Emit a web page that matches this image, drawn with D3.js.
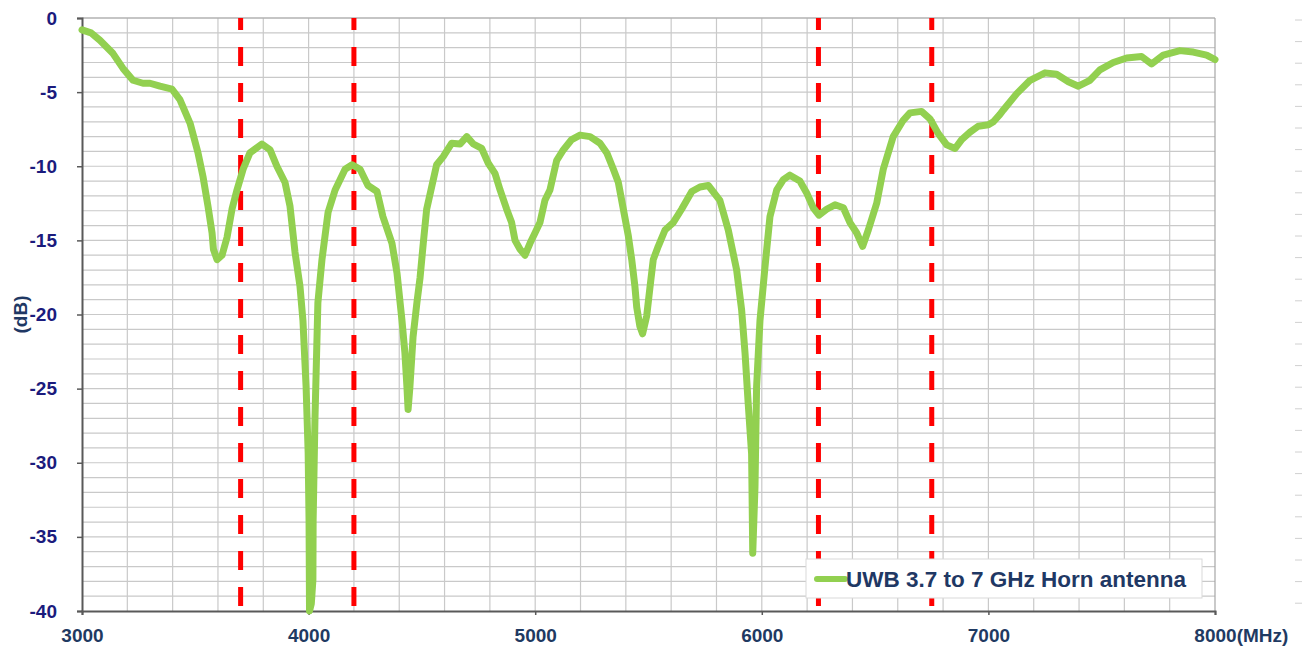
<!DOCTYPE html>
<html>
<head>
<meta charset="utf-8">
<script src="https://cdn.jsdelivr.net/npm/d3@7/dist/d3.min.js"></script>
<style>
  html, body { margin: 0; padding: 0; background: #ffffff; }
  svg { display: block; font-family: "Liberation Sans", Arial, sans-serif; }
</style>
</head>
<body>
<svg id="chart" width="1302" height="649"></svg>
<script>
// Return loss of the horn antenna, frequency in MHz and S11 in dB
const freqMHz = [
  3000, 3040, 3079, 3137, 3181, 3225, 3269, 3300, 3344, 3397, 3432, 3477, 3512, 3534, 3556, 3574, 3580, 3596,
  3618, 3640, 3662, 3684, 3711, 3741, 3794, 3830, 3860, 3896, 3918, 3940, 3962, 3975, 3989, 3998, 4002, 4004,
  4012, 4019, 4020, 4028, 4041, 4059, 4086, 4117, 4161, 4192, 4227, 4262, 4302, 4328, 4368, 4390, 4412, 4425,
  4434, 4439, 4447, 4461, 4478, 4492, 4506, 4521, 4543, 4565, 4594, 4631, 4668, 4698, 4727, 4764, 4793, 4823,
  4845, 4874, 4896, 4911, 4933, 4955, 4977, 4999, 5021, 5043, 5065, 5095, 5124, 5161, 5198, 5242, 5286, 5316,
  5345, 5367, 5389, 5411, 5426, 5440, 5448, 5462, 5474, 5492, 5507, 5521, 5543, 5573, 5609, 5646, 5691, 5727,
  5764, 5815, 5852, 5889, 5911, 5926, 5940, 5955, 5960, 5970, 5977, 5992, 6014, 6036, 6066, 6095, 6124, 6168,
  6198, 6227, 6252, 6286, 6323, 6360, 6389, 6419, 6445, 6470, 6507, 6536, 6580, 6624, 6654, 6705, 6742, 6779,
  6816, 6853, 6882, 6919, 6955, 7000, 7022, 7051, 7066, 7125, 7184, 7250, 7301, 7353, 7397, 7448, 7492, 7551,
  7610, 7676, 7720, 7772, 7845, 7904, 7963, 8000
];
const s11dB = [
  -0.8, -1.0, -1.5, -2.4, -3.4, -4.2, -4.4, -4.4, -4.6, -4.8, -5.5, -7.1, -9.1, -10.7, -12.7, -14.5, -15.6, -16.3,
  -16.0, -14.8, -12.9, -11.6, -10.2, -9.1, -8.5, -8.9, -10.0, -11.1, -12.7, -15.8, -18.1, -20.4, -24.9, -29.3, -33.9, -40.0,
  -39.5, -37.9, -33.9, -27.1, -19.2, -16.3, -13.1, -11.6, -10.2, -9.9, -10.2, -11.3, -11.7, -13.4, -15.2, -17.2, -20.4, -22.6,
  -24.9, -26.4, -24.9, -21.5, -19.2, -17.5, -15.2, -12.9, -11.4, -9.9, -9.35, -8.45, -8.5, -8.0, -8.5, -8.8, -9.8, -10.5,
  -11.6, -12.9, -13.8, -15.0, -15.6, -16.0, -15.2, -14.5, -13.8, -12.3, -11.6, -9.6, -8.9, -8.2, -7.9, -8.0, -8.45, -9.1,
  -10.2, -11.1, -12.9, -14.7, -16.3, -18.1, -19.5, -20.8, -21.3, -20.1, -18.1, -16.3, -15.4, -14.3, -13.8, -12.9, -11.7, -11.4,
  -11.3, -12.3, -14.3, -17.0, -19.7, -22.6, -26.0, -29.4, -36.1, -31.6, -24.9, -20.4, -16.8, -13.4, -11.6, -10.9, -10.6, -11.0,
  -11.8, -12.8, -13.3, -12.9, -12.6, -12.8, -13.8, -14.5, -15.4, -14.3, -12.5, -10.2, -8.0, -6.9, -6.4, -6.3, -6.8, -7.8,
  -8.56, -8.8, -8.2, -7.7, -7.3, -7.2, -7.0, -6.5, -6.2, -5.1, -4.2, -3.7, -3.8, -4.3, -4.6, -4.2, -3.5, -3.0,
  -2.7, -2.6, -3.1, -2.5, -2.2, -2.3, -2.5, -2.8
];

// Band edges marked with dashed red lines (MHz)
const bandEdges = [3700, 4200, 6250, 6750];

// Axis ticks
const xTickValues = [3000, 4000, 5000, 6000, 7000, 8000];
const yTickValues = [0, -5, -10, -15, -20, -25, -30, -35, -40];
const seriesName = "UWB 3.7 to 7 GHz Horn antenna";

const svg = d3.select("#chart");
const margin = { left: 82, top: 18, right: 87, bottom: 38 };
const W = 1302, H = 649;
const iw = W - margin.left - margin.right;
const ih = H - margin.top - margin.bottom;

const x = d3.scaleLinear().domain([3000, 8000]).range([0, iw]);
const y = d3.scaleLinear().domain([-40, 0]).range([ih, 0]);

const g = svg.append("g").attr("transform", `translate(${margin.left},${margin.top})`);
const plainNumber = d => String(d);

// Grid: every 200 MHz and every 1 dB
const gridColor = "#c9c9c9";
g.append("g").selectAll("line").data(d3.range(3200, 8000, 200)).join("line")
  .attr("x1", d => x(d)).attr("x2", d => x(d)).attr("y1", 0).attr("y2", ih)
  .attr("stroke", gridColor).attr("stroke-width", 1.2);
g.append("g").selectAll("line").data(d3.range(-39, 1, 1)).join("line")
  .attr("x1", 0).attr("x2", iw).attr("y1", d => y(d)).attr("y2", d => y(d))
  .attr("stroke", gridColor).attr("stroke-width", 1.2);

// Plot frame: light top/right, dark left/bottom axes
g.append("line").attr("x1", 0).attr("x2", iw).attr("y1", 0).attr("y2", 0)
  .attr("stroke", "#a6a6a6").attr("stroke-width", 1.2);
g.append("line").attr("x1", iw).attr("x2", iw).attr("y1", 0).attr("y2", ih)
  .attr("stroke", "#a6a6a6").attr("stroke-width", 1.2);

// Y axis
const yAxis = g.append("g")
  .call(d3.axisLeft(y).tickValues(yTickValues).tickSize(5).tickPadding(20).tickFormat(plainNumber));
yAxis.select(".domain").attr("stroke", "#595959").attr("stroke-width", 2);
yAxis.selectAll(".tick line").attr("stroke", "#595959").attr("stroke-width", 1.5);
yAxis.selectAll(".tick text")
  .attr("fill", "#1b1b7d").attr("font-size", 19).attr("font-weight", "bold")
  .attr("font-family", "'Liberation Sans', Arial, sans-serif");

// X axis
const xAxis = g.append("g").attr("transform", `translate(0,${ih})`)
  .call(d3.axisBottom(x).tickValues(xTickValues).tickSize(4).tickPadding(14).tickFormat(plainNumber));
xAxis.select(".domain").attr("stroke", "#595959").attr("stroke-width", 2);
xAxis.selectAll(".tick line").attr("stroke", "#595959").attr("stroke-width", 1.5);
xAxis.selectAll(".tick text")
  .attr("fill", "#1f3a62").attr("font-size", 19).attr("font-weight", "bold")
  .attr("font-family", "'Liberation Sans', Arial, sans-serif");

// Unit suffix after the last frequency label
const lastTick = xAxis.selectAll(".tick text").filter(d => d === 8000);
lastTick.each(function () {
  const bb = this.getBBox();
  d3.select(this.parentNode).append("text")
    .attr("x", bb.x + bb.width).attr("y", this.getAttribute("y")).attr("dy", this.getAttribute("dy"))
    .attr("text-anchor", "start")
    .attr("fill", "#1f3a62").attr("font-size", 19).attr("font-weight", "bold")
    .attr("font-family", "'Liberation Sans', Arial, sans-serif")
    .text("(MHz)");
});

// Y axis title
svg.append("text")
  .attr("transform", `translate(27,${margin.top + ih / 2}) rotate(-90)`)
  .attr("text-anchor", "middle")
  .attr("fill", "#1f3864").attr("font-size", 19).attr("font-weight", "bold")
  .text("(dB)");

// Band edge markers
g.append("g").selectAll("line").data(bandEdges).join("line")
  .attr("x1", d => x(d)).attr("x2", d => x(d)).attr("y1", 0).attr("y2", ih)
  .attr("stroke", "#ff0000").attr("stroke-width", 5)
  .attr("stroke-dasharray", "19,17").attr("stroke-dashoffset", 7);

// Measured curve
const pts = freqMHz.map((f, i) => [f, s11dB[i]]);
const line = d3.line().x(d => x(d[0])).y(d => y(d[1]));
g.append("path").datum(pts)
  .attr("d", line)
  .attr("fill", "none")
  .attr("stroke", "#92d050").attr("stroke-width", 7)
  .attr("stroke-linejoin", "round").attr("stroke-linecap", "round");

// Legend
const lg = svg.append("g").attr("transform", "translate(806,559)");
lg.append("rect").attr("width", 396).attr("height", 39)
  .attr("fill", "#ffffff").attr("stroke", "#d9d9d9").attr("stroke-width", 1);
lg.append("line").attr("x1", 11).attr("x2", 39).attr("y1", 20).attr("y2", 20)
  .attr("stroke", "#92d050").attr("stroke-width", 6).attr("stroke-linecap", "round");
lg.append("text").attr("x", 40).attr("y", 28)
  .attr("fill", "#1f3864").attr("font-size", 22.5).attr("font-weight", "bold")
  .text(seriesName);

// Grey stubs along the right page edge
svg.append("g").selectAll("line").data(d3.range(0, 28)).join("line")
  .attr("x1", 1295).attr("x2", 1302)
  .attr("y1", d => 20 + d * 21.6).attr("y2", d => 20 + d * 21.6)
  .attr("stroke", "#d0d0d0").attr("stroke-width", 1);
</script>
</body>
</html>
